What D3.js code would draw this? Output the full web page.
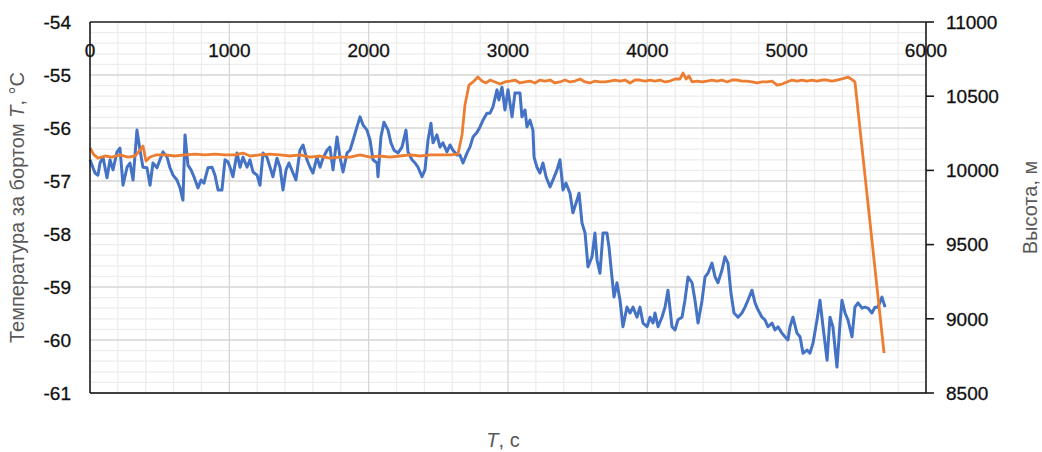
<!DOCTYPE html>
<html>
<head>
<meta charset="utf-8">
<script src="https://cdn.jsdelivr.net/npm/d3@7"></script>
<style>
  body { margin: 0; background: #fff; }
  text { font-family: "Liberation Sans", Arial, sans-serif; }
</style>
</head>
<body>
<div id="chart"></div>
<script>
// temperature outside, deg C (left axis)
var tempTime = [
    0,36,57,72,93,122,144,165,194,215,
    237,266,287,309,337,359,380,409,431,452,
    481,502,524,553,574,596,624,646,667,682,
    703,725,746,775,797,818,847,876,897,919,
    947,969,990,1005,1026,1055,1077,1098,1127,1148,
    1170,1199,1220,1242,1270,1292,1313,1342,1364,1385,
    1407,1428,1457,1478,1507,1529,1557,1579,1600,1629,
    1651,1672,1701,1722,1744,1773,1794,1816,1845,1866,
    1888,1916,1938,1959,1988,2010,2031,2060,2067,2088,
    2110,2139,2160,2182,2211,2239,2268,2282,2311,2333,
    2354,2383,2404,2426,2447,2462,2490,2512,2533,2562,
    2584,2605,2634,2655,2677,2706,2727,2749,2778,2799,
    2821,2849,2871,2892,2921,2935,2957,2978,3000,3029,
    3050,3072,3086,3100,3122,3136,3158,3179,3187,3208,
    3229,3251,3273,3302,3323,3352,3373,3395,3416,3445,
    3466,3495,3510,3531,3553,3574,3603,3624,3639,3660,
    3682,3710,3725,3746,3761,3782,3804,3825,3854,3876,
    3897,3926,3947,3969,3998,4019,4041,4055,4077,4105,
    4127,4148,4177,4199,4220,4249,4270,4292,4321,4342,
    4364,4393,4414,4435,4464,4486,4507,4536,4557,4579,
    4600,4622,4651,4679,4701,4722,4751,4773,4794,4823,
    4844,4866,4895,4916,4938,4966,4988,5009,5024,5045,
    5074,5096,5117,5146,5167,5189,5218,5239,5261,5290,
    5311,5332,5361,5383,5397,5419,5440,5469,5490,5512,
    5541,5562,5584,5612,5634,5655,5684,5706
];
var tempVal = [
    -56.60,-56.85,-56.89,-56.66,-56.55,-56.94,-56.60,-56.79,-56.45,-56.38,
    -57.08,-56.74,-56.66,-56.98,-56.04,-56.42,-56.74,-56.75,-57.08,-56.66,
    -56.75,-56.60,-56.45,-56.55,-56.75,-56.89,-56.98,-57.13,-57.36,-56.13,
    -56.70,-56.79,-56.92,-57.13,-56.98,-57.04,-56.75,-56.74,-56.89,-57.17,
    -57.17,-56.60,-56.64,-56.74,-56.92,-56.47,-56.74,-56.55,-56.74,-56.60,
    -56.83,-56.89,-57.08,-56.47,-56.55,-56.74,-56.92,-56.57,-56.74,-57.17,
    -56.79,-56.66,-56.85,-56.98,-56.42,-56.32,-56.60,-56.74,-56.85,-56.55,
    -56.74,-56.57,-56.42,-56.36,-56.79,-56.17,-56.55,-56.83,-56.47,-56.42,
    -56.23,-55.98,-55.79,-55.94,-56.04,-56.23,-56.60,-56.66,-56.92,-56.17,
    -55.89,-56.04,-56.28,-56.42,-56.47,-56.36,-56.04,-56.45,-56.60,-56.66,
    -56.74,-56.92,-56.79,-56.23,-55.91,-56.28,-56.13,-56.36,-56.28,-56.45,
    -56.32,-56.42,-56.51,-56.51,-56.66,-56.47,-56.36,-56.17,-56.08,-55.98,
    -55.85,-55.72,-55.72,-55.60,-55.28,-55.47,-55.23,-55.66,-55.28,-55.79,
    -55.34,-55.34,-55.34,-55.79,-55.66,-55.98,-55.85,-56.04,-56.55,-56.74,
    -56.85,-56.66,-56.92,-57.11,-56.98,-56.79,-56.60,-57.17,-57.04,-57.23,
    -57.60,-57.36,-57.23,-57.79,-57.98,-58.62,-58.43,-57.98,-58.49,-58.74,
    -57.98,-57.98,-58.25,-58.81,-59.19,-58.92,-59.25,-59.75,-59.38,-59.49,
    -59.38,-59.57,-59.38,-59.68,-59.75,-59.57,-59.68,-59.49,-59.75,-59.57,
    -59.38,-59.06,-59.75,-59.81,-59.62,-59.57,-59.25,-58.81,-58.92,-59.25,
    -59.68,-59.25,-58.81,-58.74,-58.55,-58.81,-58.92,-58.68,-58.43,-58.55,
    -59.11,-59.49,-59.57,-59.49,-59.38,-59.25,-59.06,-59.30,-59.43,-59.57,
    -59.62,-59.75,-59.68,-59.81,-59.75,-59.87,-59.94,-60.00,-59.75,-59.57,
    -59.87,-59.94,-60.25,-60.19,-60.25,-60.06,-59.62,-59.25,-59.75,-60.38,
    -59.57,-59.75,-60.51,-59.68,-59.25,-59.49,-59.62,-59.94,-59.38,-59.30,
    -59.40,-59.38,-59.40,-59.49,-59.38,-59.38,-59.19,-59.38
];

// altitude, m (right axis)
var altTime = [
    0,29,57,108,158,215,273,323,359,380,
    402,431,474,538,610,682,754,825,897,969,
    1041,1098,1148,1220,1292,1364,1435,1507,1579,1651,
    1722,1794,1866,1938,2010,2081,2153,2225,2297,2368,
    2440,2512,2584,2641,2670,2691,2720,2756,2784,2813,
    2842,2871,2907,2943,2978,3014,3050,3086,3122,3158,
    3194,3230,3266,3302,3337,3373,3409,3445,3481,3517,
    3553,3589,3624,3660,3696,3732,3768,3804,3840,3876,
    3912,3947,3983,4019,4055,4091,4127,4163,4199,4234,
    4256,4278,4299,4321,4357,4393,4428,4464,4500,4536,
    4572,4608,4644,4679,4715,4751,4787,4823,4859,4895,
    4931,4966,5002,5038,5074,5110,5146,5182,5218,5253,
    5289,5325,5361,5397,5440,5462,5490,5699
];
var altVal = [
    10151,10104,10083,10097,10090,10104,10090,10097,10137,10164,
    10063,10090,10104,10104,10097,10104,10110,10104,10110,10104,
    10104,10117,10097,10104,10110,10104,10097,10104,10090,10097,
    10083,10090,10090,10104,10090,10097,10090,10097,10104,10097,
    10104,10104,10104,10110,10238,10441,10575,10602,10629,10602,
    10589,10609,10596,10582,10596,10602,10609,10589,10596,10602,
    10589,10609,10602,10609,10589,10596,10609,10596,10602,10616,
    10596,10589,10602,10596,10596,10602,10609,10602,10609,10589,
    10609,10609,10602,10609,10602,10609,10596,10602,10616,10616,
    10656,10616,10636,10596,10602,10596,10602,10609,10602,10609,
    10596,10609,10609,10602,10602,10596,10589,10596,10596,10602,
    10575,10582,10596,10609,10602,10609,10602,10609,10602,10609,
    10609,10602,10609,10616,10629,10616,10596,8769
];

var timeTicks = [0, 1000, 2000, 3000, 4000, 5000, 6000];
var tempTicks = [-54, -55, -56, -57, -58, -59, -60, -61];
var altTicks = [8500, 9000, 9500, 10000, 10500, 11000];

var margin = { left: 90, right: 116, top: 22, bottom: 59 },
    W = 1042, H = 452,
    width = W - margin.left - margin.right,
    height = H - margin.top - margin.bottom;

var svg = d3.select("#chart")
    .append("svg")
        .attr("width", W)
        .attr("height", H)
        .append("g")
            .attr("transform", "translate(" + margin.left + "," + margin.top + ")");

var x = d3.scaleLinear().domain([0, 6000]).range([0, width]);
var yT = d3.scaleLinear().domain([-61, -54]).range([height, 0]);
var yA = d3.scaleLinear().domain([8500, 11000]).range([height, 0]);

// minor grid
var grid = svg.append("g");
grid.selectAll(".vmin")
    .data(d3.range(200, 6000, 200).filter(function(d){ return d % 1000 != 0; }))
    .enter().append("line")
    .attr("x1", function(d){ return x(d); }).attr("x2", function(d){ return x(d); })
    .attr("y1", 0).attr("y2", height)
    .attr("stroke", "#ededed").attr("stroke-width", 1.3);
grid.selectAll(".hmin")
    .data(d3.range(1, 35).filter(function(i){ return i % 5 != 0; }))
    .enter().append("line")
    .attr("y1", function(i){ return yT(-61 + i * 0.2); }).attr("y2", function(i){ return yT(-61 + i * 0.2); })
    .attr("x1", 0).attr("x2", width)
    .attr("stroke", "#ededed").attr("stroke-width", 1.3);

// major grid
grid.selectAll(".vmaj")
    .data(timeTicks.slice(1, -1))
    .enter().append("line")
    .attr("x1", function(d){ return x(d); }).attr("x2", function(d){ return x(d); })
    .attr("y1", 0).attr("y2", height)
    .attr("stroke", "#d6d6d6").attr("stroke-width", 1.3);
grid.selectAll(".hmaj")
    .data(tempTicks.slice(1, -1))
    .enter().append("line")
    .attr("y1", function(d){ return yT(d); }).attr("y2", function(d){ return yT(d); })
    .attr("x1", 0).attr("x2", width)
    .attr("stroke", "#d6d6d6").attr("stroke-width", 1.3);

// series
var tempData = tempTime.map(function(t, i){ return { t: t, v: tempVal[i] }; });
var altData = altTime.map(function(t, i){ return { t: t, v: altVal[i] }; });

svg.append("path")
    .datum(tempData)
    .attr("fill", "none")
    .attr("stroke", "#4472C4")
    .attr("stroke-width", 3)
    .attr("stroke-linejoin", "round")
    .attr("d", d3.line().x(function(d){ return x(d.t); }).y(function(d){ return yT(d.v); }));

svg.append("path")
    .datum(altData)
    .attr("fill", "none")
    .attr("stroke", "#ED7D31")
    .attr("stroke-width", 2.8)
    .attr("stroke-linejoin", "round")
    .attr("d", d3.line().x(function(d){ return x(d.t); }).y(function(d){ return yA(d.v); }));

// frame
var frame = svg.append("g").attr("stroke", "#1a1a1a").attr("stroke-width", 1.6);
frame.append("line").attr("x1", 0).attr("x2", width).attr("y1", 0).attr("y2", 0);
frame.append("line").attr("x1", 0).attr("x2", width).attr("y1", height).attr("y2", height).attr("stroke", "#404040").attr("stroke-width", 2);
frame.append("line").attr("x1", 0).attr("x2", 0).attr("y1", 0).attr("y2", height);
frame.append("line").attr("x1", width).attr("x2", width).attr("y1", 0).attr("y2", height);

// right axis ticks
frame.selectAll(".rtick")
    .data(altTicks)
    .enter().append("line")
    .attr("x1", width).attr("x2", width + 8)
    .attr("y1", function(d){ return yA(d); }).attr("y2", function(d){ return yA(d); });

// tick labels
var labels = svg.append("g")
    .attr("font-size", "19px")
    .attr("fill", "#111")
    .attr("stroke", "#111")
    .attr("stroke-width", 0.3);

labels.selectAll(".xlab")
    .data(timeTicks)
    .enter().append("text")
    .attr("x", function(d){ return x(d); })
    .attr("y", 35)
    .attr("text-anchor", "middle")
    .text(function(d){ return d; });

labels.selectAll(".ylab")
    .data(tempTicks)
    .enter().append("text")
    .attr("x", -19)
    .attr("y", function(d){ return yT(d); })
    .attr("dy", "0.36em")
    .attr("text-anchor", "end")
    .text(function(d){ return d; });

labels.selectAll(".alab")
    .data(altTicks)
    .enter().append("text")
    .attr("x", width + 20)
    .attr("y", function(d){ return yA(d); })
    .attr("dy", "0.36em")
    .attr("text-anchor", "start")
    .text(function(d){ return d; });

// axis titles
var leftTitle = svg.append("text")
    .attr("transform", "translate(" + (-66) + "," + (height / 2) + ") rotate(-90)")
    .attr("text-anchor", "middle")
    .attr("font-size", "20px")
    .attr("fill", "#595959");
leftTitle.append("tspan").text("Температура за бортом ");
leftTitle.append("tspan").attr("font-style", "italic").text("T");
leftTitle.append("tspan").text(", °С");

svg.append("text")
    .attr("transform", "translate(" + (width + 111) + "," + (height / 2) + ") rotate(-90)")
    .attr("text-anchor", "middle")
    .attr("font-size", "20px")
    .attr("fill", "#595959")
    .text("Высота, м");

var bottomTitle = svg.append("text")
    .attr("x", width / 2 - 5)
    .attr("y", height + 54)
    .attr("text-anchor", "middle")
    .attr("font-size", "20px")
    .attr("fill", "#595959");
bottomTitle.append("tspan").attr("font-style", "italic").text("T");
bottomTitle.append("tspan").text(", с");
</script>
</body>
</html>
